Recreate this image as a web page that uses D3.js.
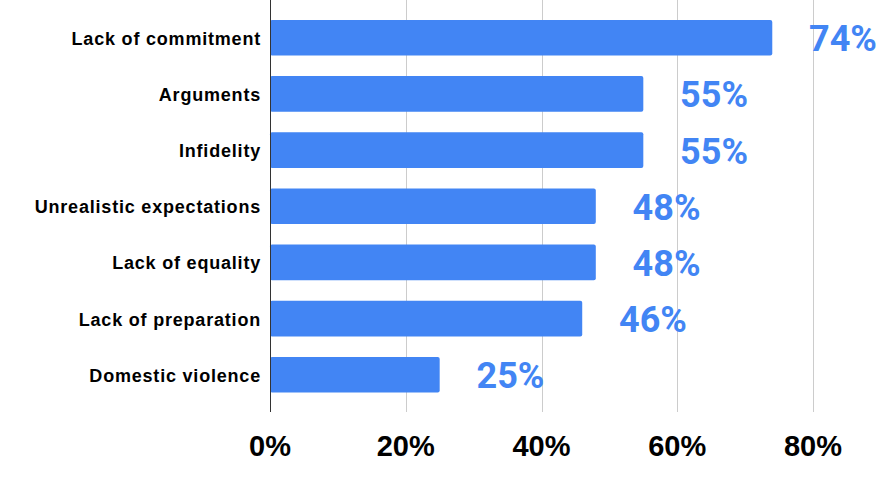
<!DOCTYPE html>
<html>
<head>
<meta charset="utf-8">
<script src="https://d3js.org/d3.v7.min.js"></script>
<style>
  body { margin: 0; background: #fff; }
  svg { display: block; }
</style>
</head>
<body>
<svg id="chart"></svg>
<script>
// data
var categories = ["Lack of commitment", "Arguments", "Infidelity", "Unrealistic expectations",
                  "Lack of equality", "Lack of preparation", "Domestic violence"];
var values = [74, 55, 55, 48, 48, 46, 25];
var ticks = [0, 20, 40, 60, 80];

var width = 885, height = 484;
var blue = "#4285f4";

var svg = d3.select("#chart")
    .attr("width", width)
    .attr("height", height);

var x = d3.scaleLinear()
    .domain([0, 80])
    .range([270, 813]);

var y = d3.scaleBand()
    .domain(categories)
    .range([9.7, 402.8])
    .paddingInner(0.365)
    .paddingOuter(0.1825);

// gridlines
svg.append("g").selectAll("line")
    .data(ticks.slice(1))
    .enter().append("line")
    .attr("x1", function(d) { return Math.round(x(d)) + 0.5; })
    .attr("x2", function(d) { return Math.round(x(d)) + 0.5; })
    .attr("y1", 0)
    .attr("y2", 412)
    .attr("stroke", "#cccccc")
    .attr("stroke-width", 1);

// bars
svg.append("g").selectAll("rect")
    .data(values)
    .enter().append("rect")
    .attr("x", x(0))
    .attr("y", function(d, i) { return y(categories[i]); })
    .attr("width", function(d) { return x(d) - x(0); })
    .attr("height", y.bandwidth())
    .attr("rx", 2)
    .attr("fill", blue);

// zero axis line
svg.append("line")
    .attr("x1", Math.round(x(0)) + 0.5)
    .attr("x2", Math.round(x(0)) + 0.5)
    .attr("y1", 0)
    .attr("y2", 412)
    .attr("stroke", "#333333")
    .attr("stroke-width", 1);

// value labels
svg.append("g").selectAll("text")
    .data(values)
    .enter().append("text")
    .attr("x", function(d) { return x(d) + 36.8; })
    .attr("y", function(d, i) { return y(categories[i]) + y.bandwidth() / 2 + 13.5; })
    .attr("fill", blue)
    .style("font-family", "Roboto, sans-serif")
    .style("font-weight", "bold")
    .style("font-size", "36px")
    .text(function(d) { return d + "%"; });

// category labels
svg.append("g").selectAll("text")
    .data(categories)
    .enter().append("text")
    .attr("x", 261)
    .attr("y", function(d) { return y(d) + y.bandwidth() / 2 + 7; })
    .attr("text-anchor", "end")
    .attr("fill", "#000")
    .style("font-family", "'Liberation Sans', Arial, sans-serif")
    .style("font-weight", "bold")
    .style("font-size", "18px")
    .style("letter-spacing", "0.8px")
    .text(function(d) { return d; });

// x tick labels
svg.append("g").selectAll("text")
    .data(ticks)
    .enter().append("text")
    .attr("x", function(d) { return x(d); })
    .attr("y", 456)
    .attr("text-anchor", "middle")
    .attr("fill", "#000")
    .style("font-family", "'Liberation Sans', Arial, sans-serif")
    .style("font-weight", "bold")
    .style("font-size", "29px")
    .text(function(d) { return d + "%"; });
</script>
</body>
</html>
